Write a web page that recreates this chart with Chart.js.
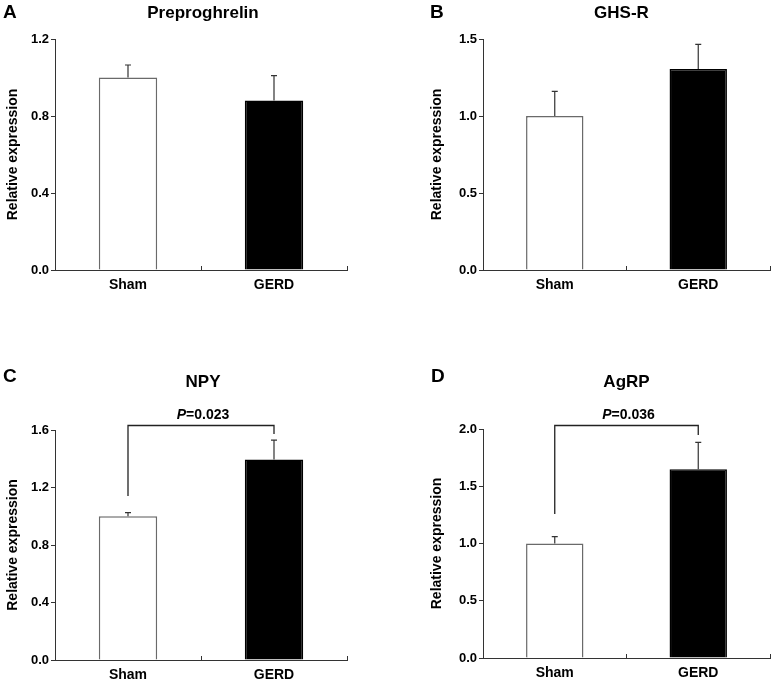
<!DOCTYPE html>
<html lang="en">
<head>
    <meta charset="UTF-8">
    <title>Relative expression</title>
    <style>
        body { margin: 0; background: #fff; }
        .panel { position: absolute; }
    </style>
</head>
<body>
    <div class="panel" style="left:0;top:0;width:388px;height:330px"><canvas id="chartA"></canvas></div>
    <div class="panel" style="left:388px;top:0;width:389px;height:330px"><canvas id="chartB"></canvas></div>
    <div class="panel" style="left:0;top:330px;width:388px;height:352px"><canvas id="chartC"></canvas></div>
    <div class="panel" style="left:388px;top:330px;width:389px;height:352px"><canvas id="chartD"></canvas></div>

<script src="https://cdn.jsdelivr.net/npm/chart.js"></script>
<script>
    // data
    const categories = ['Sham', 'GERD'];

    const preproghrelinMean = [1.00, 0.88];
    const preproghrelinSem = [0.065, 0.13];

    const ghsrMean = [1.00, 1.305];
    const ghsrSem = [0.16, 0.16];

    const npyMean = [1.00, 1.395];
    const npySem = [0.025, 0.135];

    const agrpMean = [1.00, 1.648];
    const agrpSem = [0.06, 0.235];

    const yMaxValues = [1.2, 1.5, 1.6, 2.0];
    const yStepValues = [0.4, 0.5, 0.4, 0.5];

    const pLabels = [null, null, '0.023', '0.036'];

    Chart.defaults.font.family = "'Liberation Sans', Arial, sans-serif";
    Chart.defaults.color = '#000';

    const lineColor = '#333';

    // layout of each panel (pixels inside its canvas)
    const panels = [
        { id: 'chartA', letter: 'A', title: 'Preproghrelin', mean: preproghrelinMean, sem: preproghrelinSem,
          pad: { left: 5, top: 39, right: 41, bottom: 20 }, yWidth: 50, xHeight: 40,
          letterX: 3, letterY: 18, titleY: 17.5, titleDx: 2 },
        { id: 'chartB', letter: 'B', title: 'GHS-R', mean: ghsrMean, sem: ghsrSem,
          pad: { left: 41, top: 39, right: 7, bottom: 20 }, yWidth: 54, xHeight: 40,
          letterX: 42, letterY: 18, titleY: 17.5, titleDx: -5 },
        { id: 'chartC', letter: 'C', title: 'NPY', mean: npyMean, sem: npySem,
          pad: { left: 5, top: 100, right: 41, bottom: 0 }, yWidth: 50, xHeight: 22,
          letterX: 3, letterY: 52, titleY: 57, titleDx: 2,
          bracket: { y: 1.635, left: 1.141, right: 1.572 } },
        { id: 'chartD', letter: 'D', title: 'AgRP', mean: agrpMean, sem: agrpSem,
          pad: { left: 41, top: 99, right: 7, bottom: 2 }, yWidth: 54, xHeight: 22,
          letterX: 43, letterY: 52, titleY: 57, titleDx: 0,
          bracket: { y: 2.035, left: 1.258, right: 1.948 } }
    ];

    // error bars, titles, letters and significance bracket
    const decorPlugin = {
        id: 'decor',
        afterDatasetsDraw(chart, args, opts) {
            const ctx = chart.ctx;
            const yScale = chart.scales.y;
            const bars = chart.getDatasetMeta(0).data;
            ctx.save();
            ctx.strokeStyle = lineColor;
            ctx.lineWidth = 1.2;
            bars.forEach((bar, i) => {
                const top = yScale.getPixelForValue(opts.mean[i] + opts.sem[i]);
                ctx.beginPath();
                ctx.moveTo(bar.x, bar.y);
                ctx.lineTo(bar.x, top);
                ctx.moveTo(bar.x - 3, top);
                ctx.lineTo(bar.x + 3, top);
                ctx.stroke();
            });
            ctx.restore();
        },
        afterDraw(chart, args, opts) {
            const ctx = chart.ctx;
            const area = chart.chartArea;
            const yScale = chart.scales.y;
            const bars = chart.getDatasetMeta(0).data;
            ctx.save();
            ctx.fillStyle = '#000';
            ctx.textBaseline = 'alphabetic';

            ctx.font = "bold 19px 'Liberation Sans', Arial, sans-serif";
            ctx.textAlign = 'left';
            ctx.fillText(opts.letter, opts.letterX, opts.letterY);

            ctx.font = "bold 17px 'Liberation Sans', Arial, sans-serif";
            ctx.textAlign = 'center';
            ctx.fillText(opts.title, (area.left + area.right) / 2 + opts.titleDx, opts.titleY);

            if (opts.bracket && opts.p) {
                const b = opts.bracket;
                const yb = Math.round(yScale.getPixelForValue(b.y)) + 0.5;
                const x1 = bars[0].x, x2 = bars[1].x;
                ctx.strokeStyle = '#222';
                ctx.lineWidth = 1.3;
                ctx.beginPath();
                ctx.moveTo(x1, yScale.getPixelForValue(b.left));
                ctx.lineTo(x1, yb);
                ctx.lineTo(x2, yb);
                ctx.lineTo(x2, yScale.getPixelForValue(b.right));
                ctx.stroke();

                const italic = "italic bold 14px 'Liberation Sans', Arial, sans-serif";
                const bold = "bold 14px 'Liberation Sans', Arial, sans-serif";
                ctx.font = italic;
                const wP = ctx.measureText('P').width;
                ctx.font = bold;
                const rest = '=' + opts.p;
                const wR = ctx.measureText(rest).width;
                const start = (x1 + x2) / 2 + 2 - (wP + wR) / 2;
                ctx.textAlign = 'left';
                ctx.font = italic;
                ctx.fillText('P', start, yb - 7);
                ctx.font = bold;
                ctx.fillText(rest, start + wP, yb - 7);
            }
            ctx.restore();
        }
    };

    panels.forEach((p, k) => {
        const ctx = document.getElementById(p.id).getContext('2d');
        new Chart(ctx, {
            type: 'bar',
            data: {
                labels: categories,
                datasets: [{
                    data: p.mean,
                    backgroundColor: ['#ffffff', '#000000'],
                    borderColor: ['#6a6a6a', '#000000'],
                    borderWidth: 1.5,
                    barPercentage: 0.4,
                    categoryPercentage: 1.0
                }]
            },
            options: {
                responsive: true,
                maintainAspectRatio: false,
                animation: false,
                layout: { padding: p.pad },
                plugins: {
                    legend: { display: false },
                    tooltip: { enabled: false },
                    decor: {
                        letter: p.letter, title: p.title, mean: p.mean, sem: p.sem,
                        letterX: p.letterX, letterY: p.letterY, titleY: p.titleY, titleDx: p.titleDx,
                        bracket: p.bracket, p: pLabels[k]
                    }
                },
                scales: {
                    x: {
                        grid: { drawOnChartArea: false, drawTicks: true, tickLength: -4, color: lineColor },
                        border: { color: lineColor, width: 1 },
                        ticks: { font: { size: 14, weight: 'bold' }, padding: 11, color: '#000' },
                        afterFit(scale) { scale.height = p.xHeight; }
                    },
                    y: {
                        min: 0,
                        max: yMaxValues[k],
                        grid: { drawOnChartArea: false, drawTicks: true, tickLength: 4, color: lineColor },
                        border: { color: lineColor, width: 1 },
                        ticks: {
                            stepSize: yStepValues[k],
                            padding: 2,
                            font: { size: 13, weight: 'bold' },
                            color: '#000',
                            callback: v => v.toFixed(1)
                        },
                        title: {
                            display: true,
                            text: 'Relative expression',
                            font: { size: 14, weight: 'bold' },
                            padding: 0,
                            color: '#000'
                        },
                        afterFit(scale) { scale.width = p.yWidth; }
                    }
                }
            },
            plugins: [decorPlugin]
        });
    });
</script>
</body>
</html>
